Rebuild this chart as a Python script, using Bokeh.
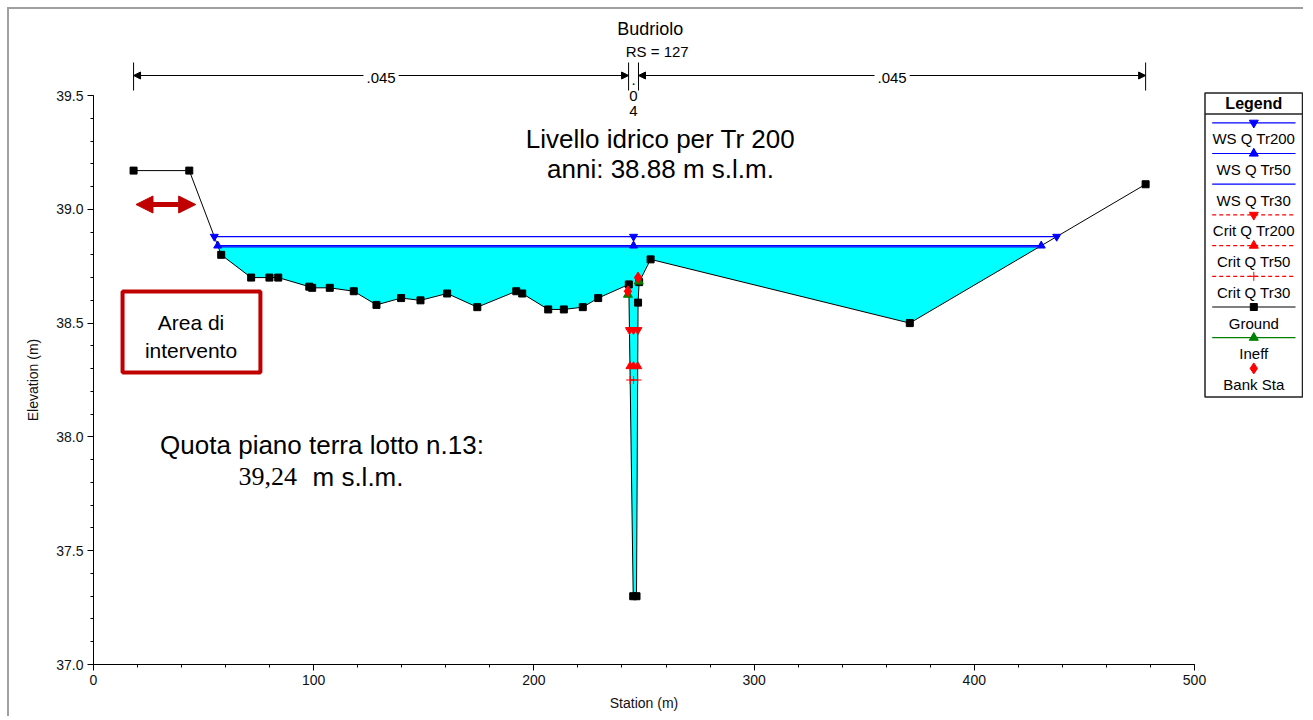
import numpy as np
from bokeh.plotting import figure
from bokeh.models import (Range1d, FixedTicker, PrintfTickFormatter, Label, Title,
                          BoxAnnotation, Arrow, NormalHead)
from bokeh.embed import file_html
from bokeh.resources import INLINE

# ---------------- data ----------------
chart_title = "Budriolo"
river_station_label = "RS = 127"
x_axis_title = "Station (m)"
y_axis_title = "Elevation (m)"

ground_station = [18.2, 43.5, 58.0, 71.6, 79.9, 83.9, 98.0, 99.3, 107.3, 118.2,
                  128.5, 139.7, 148.5, 160.6, 174.3, 192.0, 194.7, 206.5, 213.6,
                  222.2, 229.2, 243.1, 245.1, 246.6, 247.3, 247.8, 253.0, 370.7, 477.8]
ground_elev = [39.17, 39.17, 38.80, 38.70, 38.70, 38.70, 38.66, 38.655, 38.655, 38.64,
               38.58, 38.61, 38.60, 38.63, 38.57, 38.64, 38.63, 38.56, 38.56,
               38.57, 38.61, 38.67, 37.30, 37.30, 38.59, 38.68, 38.78, 38.50, 39.11]

ws_names = ["WS Q Tr200", "WS Q Tr50", "WS Q Tr30"]
ws_elev = [38.88, 38.84, 38.835]

crit_names = ["Crit Q Tr200", "Crit Q Tr50", "Crit Q Tr30"]
crit_elev = [38.47, 38.31, 38.25]

bank_station = [242.7, 247.3]
bank_elev = [38.64, 38.70]
ineff_station = [242.7, 247.6]
ineff_elev = [38.625, 38.683]

n_break_station = [18.2, 243.0, 247.5, 477.8]
n_value = [0.045, 0.04, 0.045]

x_ticks = [0, 100, 200, 300, 400, 500]
y_ticks = [37.0, 37.5, 38.0, 38.5, 39.0, 39.5]

note_ws_lines = ["Livello idrico per Tr 200", "anni: 38.88 m s.l.m."]
note_area_lines = ["Area di", "intervento"]
note_floor_line = "Quota piano terra lotto n.13:"
note_floor_value = "39,24"
note_floor_unit = "m s.l.m."

# ---------------- layout helpers ----------------
PAGE = 9                      # page px where the canvas starts (margin 7 + border 2)
FIG_W, FIG_H = 1296, 709
AX_LEFT_PX, AX_BOTTOM_PX, AX_TOP_PX = 93, 664, 95
PX_PER_M = 2.202
PX_PER_ELEV = 227.6
X0, Y0 = x_ticks[0], y_ticks[0]


def dx(px):
    return X0 + (px - AX_LEFT_PX) / PX_PER_M


def dy(py):
    return Y0 + (AX_BOTTOM_PX - py) / PX_PER_ELEV


FONT = "Liberation Sans"
BLUE = "#0000FF"
RED = "#FF0000"
DARKRED = "#C00000"
GREEN = "#008000"
CYAN = "#00FFFF"

p = figure(width=FIG_W, height=FIG_H, output_backend="svg", toolbar_location=None,
           x_range=Range1d(X0, dx(PAGE + FIG_W)), y_range=Range1d(Y0, dy(PAGE)),
           min_border_left=AX_LEFT_PX - PAGE, min_border_right=0, min_border_top=0,
           min_border_bottom=PAGE + FIG_H - AX_BOTTOM_PX)
p.styles = {"margin-left": "7px", "margin-top": "7px",
            "border-left": "2px solid #a0a0a0", "border-top": "2px solid #a0a0a0"}
p.grid.visible = False
p.outline_line_color = None
p.background_fill_color = "white"
p.border_fill_color = "white"

for ax in (p.xaxis[0], p.yaxis[0]):
    ax.axis_line_color = "black"
    ax.major_tick_line_color = "black"
    ax.minor_tick_line_color = "black"
    ax.major_tick_in = 0
    ax.major_tick_out = 6
    ax.minor_tick_in = 0
    ax.minor_tick_out = 3
    ax.major_label_text_font = FONT
    ax.major_label_text_font_size = "14px"
    ax.major_label_text_color = "#111111"
    ax.major_label_standoff = 4

x_minor_step = (x_ticks[1] - x_ticks[0]) / 5
y_minor_step = (y_ticks[1] - y_ticks[0]) / 5
p.xaxis.bounds = (x_ticks[0], x_ticks[-1])
p.yaxis.bounds = (y_ticks[0], y_ticks[-1])
p.xaxis.ticker = FixedTicker(
    ticks=x_ticks,
    minor_ticks=[round(v, 6) for v in np.arange(x_ticks[0], x_ticks[-1] + 1e-9, x_minor_step)])
p.yaxis.ticker = FixedTicker(
    ticks=y_ticks,
    minor_ticks=[round(v, 6) for v in np.arange(y_ticks[0], y_ticks[-1] + 1e-9, y_minor_step)])
p.xaxis.formatter = PrintfTickFormatter(format="%d")
p.yaxis.formatter = PrintfTickFormatter(format="%.1f")

# axis titles as side-panel titles, centred on the bounded (0..500 / 37..39.5) axes
X_TITLE_W = 68.5   # approx text widths in px at 14px
Y_TITLE_W = 82.5
x_axis_mid_px = 0.5 * (x_ticks[-1] - x_ticks[0]) * PX_PER_M          # from axis start
y_axis_mid_px = 0.5 * (AX_BOTTOM_PX - AX_TOP_PX)                      # from axis bottom
p.add_layout(Title(text=x_axis_title, align="left",
                   offset=x_axis_mid_px - X_TITLE_W / 2,
                   standoff=11, text_font=FONT, text_font_size="14px",
                   text_font_style="normal", text_color="#111111"), "below")
p.add_layout(Title(text=y_axis_title, align="left",
                   offset=y_axis_mid_px - Y_TITLE_W / 2,
                   standoff=25, text_font=FONT, text_font_size="14px",
                   text_font_style="normal", text_color="#111111"), "left")


def label(x, y, text, size, align="center", baseline="middle", font=FONT,
          color="black", style="normal", angle=0.0, **kw):
    p.add_layout(Label(x=x, y=y, text=text, text_font_size=f"{size}px",
                       text_align=align, text_baseline=baseline, text_font=font,
                       text_color=color, text_font_style=style, angle=angle, **kw))


# ---------------- hydraulics ----------------
gx = np.asarray(ground_station, float)
gy = np.asarray(ground_elev, float)
channel_center = 0.5 * (n_break_station[1] + n_break_station[2])


def wet_extent(z):
    i = int(np.searchsorted(gx, channel_center)) - 1
    j = i
    while gy[j] < z:
        j -= 1
    xl = float(np.interp(z, [gy[j + 1], gy[j]], [gx[j + 1], gx[j]]))
    k = i + 1
    while gy[k] < z:
        k += 1
    xr = float(np.interp(z, [gy[k - 1], gy[k]], [gx[k - 1], gx[k]]))
    return xl, xr


# water fill (lowest profile)
z_fill = min(ws_elev)
fl, fr = wet_extent(z_fill)
inside = (gx > fl) & (gx < fr)
p.patch([fl] + list(gx[inside]) + [fr], [z_fill] + list(gy[inside]) + [z_fill],
        fill_color=CYAN, line_color=None)

# ground
p.line(gx, gy, line_color="black", line_width=1)

ws_markers = ["inverted_triangle", "triangle", None]
crit_markers = ["inverted_triangle", "triangle", "cross"]

for z, m in zip(ws_elev, ws_markers):
    xl, xr = wet_extent(z)
    p.line([xl, xr], [z, z], line_color=BLUE, line_width=1.2)
    if m:
        p.scatter([xl, channel_center, xr], [z] * 3, marker=m, size=8,
                  fill_color=BLUE, line_color=BLUE)

for z, m in zip(crit_elev, crit_markers):
    xl, xr = wet_extent(z)
    p.line([xl, xr], [z, z], line_color=RED, line_width=1, line_dash="4 3")
    p.scatter([xl, channel_center, xr], [z] * 3, marker=m, size=8,
              fill_color=RED, line_color=RED)

p.scatter(gx, gy, marker="square", size=7, fill_color="black", line_color="black")
p.scatter(ineff_station, ineff_elev, marker="triangle", size=9, fill_color=GREEN,
          line_color=GREEN)
p.scatter(bank_station, bank_elev, marker="diamond", size=11, fill_color=RED,
          line_color=RED)

# ---------------- top header: title and Manning's n bar ----------------
label(dx(649.7), dy(28), chart_title, 18)
label(dx(656.7), dy(50.5), river_station_label, 15)

NB_Y, NB_T0, NB_T1 = dy(75), dy(62), dy(90)
p.segment(x0=n_break_station, y0=[NB_T0] * len(n_break_station),
          x1=n_break_station, y1=[NB_T1] * len(n_break_station),
          line_color="black", line_width=1)
for a, b, nv in zip(n_break_station[:-1], n_break_station[1:], n_value):
    txt = f"{nv:g}".lstrip("0")
    mid = 0.5 * (a + b)
    if (b - a) * PX_PER_M > 60:
        p.add_layout(Arrow(x_start=a, x_end=b, y_start=NB_Y, y_end=NB_Y,
                           start=NormalHead(size=7, fill_color="black", line_color="black"),
                           end=NormalHead(size=7, fill_color="black", line_color="black"),
                           line_color="black", line_width=1))
        label(mid, dy(77), txt, 15, background_fill_color="white", padding=3)
    else:
        for k, ch in enumerate(txt):
            label(mid, dy(79.7 + 15.3 * k), ch, 15)

# ---------------- annotations ----------------
p.add_layout(Arrow(x_start=19.3, x_end=46.4, y_start=39.021, y_end=39.021,
                   start=NormalHead(size=17, fill_color=DARKRED, line_color=DARKRED),
                   end=NormalHead(size=17, fill_color=DARKRED, line_color=DARKRED),
                   line_color=DARKRED, line_width=5))
p.add_layout(BoxAnnotation(left=13.2, right=75.8, top=38.639, bottom=38.283,
                           fill_alpha=0, line_color=DARKRED, line_alpha=1, line_width=4))
label(dx(190.5), dy(322), note_area_lines[0], 21)
label(dx(190.5), dy(349.5), note_area_lines[1], 21)

label(dx(660), dy(138), note_ws_lines[0], 26)
label(dx(660), dy(168), note_ws_lines[1], 26)

label(dx(321.5), dy(444), note_floor_line, 26)
label(dx(238), dy(476), note_floor_value, 26, align="left", font="Liberation Serif")
label(dx(312), dy(476), note_floor_unit, 26, align="left")

# ---------------- legend ----------------
LEG_L, LEG_R, LEG_T, LEG_B = 1204.5, 1302.0, 92.5, 396.5
LEG_CX, LEG_X0, LEG_X1 = 1253.3, 1211.7, 1295.0
p.add_layout(BoxAnnotation(left=dx(LEG_L), right=dx(LEG_R), top=dy(LEG_T), bottom=dy(LEG_B),
                           fill_alpha=0, line_color="#222222", line_alpha=1, line_width=1.5))
p.segment(x0=[dx(LEG_L)], y0=[dy(113.5)], x1=[dx(LEG_R)], y1=[dy(113.5)],
          line_color="#222222", line_width=1.5)
label(dx(LEG_CX), dy(103), "Legend", 16, style="bold")

legend_entries = (
    [(n, BLUE, "solid", m, BLUE) for n, m in zip(ws_names, ws_markers)]
    + [(n, RED, "4 3", m, RED) for n, m in zip(crit_names, crit_markers)]
    + [("Ground", "black", "solid", "square", "black"),
       ("Ineff", GREEN, "solid", "triangle", GREEN),
       ("Bank Sta", None, "solid", "diamond", RED)]
)
for k, (name, lc, dash, mk, mc) in enumerate(legend_entries):
    yl = 122.3 + 30.7 * k
    if lc:
        p.line([dx(LEG_X0), dx(LEG_X1)], [dy(yl)] * 2, line_color=lc, line_width=1.2,
               line_dash=dash)
    if mk:
        p.scatter([dx(LEG_CX)], [dy(yl)], marker=mk,
                  size={"square": 7, "diamond": 11}.get(mk, 9),
                  fill_color=mc, line_color=mc)
    label(dx(LEG_CX), dy(yl + 16), name, 15)

open("out.html", "w").write(file_html(p, INLINE))
